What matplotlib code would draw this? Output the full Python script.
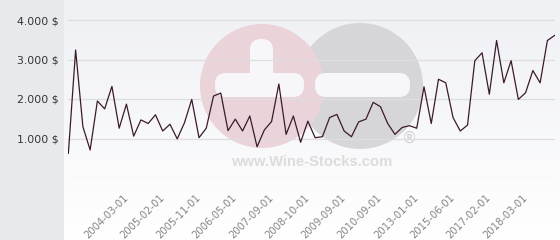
import numpy as np
import matplotlib
matplotlib.use("Agg")
import matplotlib.pyplot as plt
from matplotlib.patches import Circle, FancyBboxPatch

# ---- data ----
prices = [625, 3240, 1300, 710, 1950, 1750, 2320, 1260, 1870, 1060,
          1470, 1380, 1600, 1190, 1360, 990, 1400, 1990, 1020, 1260,
          2075, 2150, 1200, 1490, 1190, 1570, 790, 1215, 1430, 2380,
          1105, 1570, 905, 1440, 1020, 1045, 1530, 1610, 1190, 1045,
          1420, 1490, 1915, 1805, 1380, 1105, 1280, 1325, 1260, 2310,
          1380, 2500, 2410, 1530, 1190, 1340, 2970, 3170, 2120, 3480,
          2410, 2970, 1990, 2160, 2720, 2410, 3480, 3610]
tick_labels = ["2004-03-01", "2005-02-01", "2005-11-01", "2006-05-01",
               "2007-09-01", "2008-10-01", "2009-09-01", "2010-09-01",
               "2013-01-01", "2015-06-01", "2017-02-01", "2018-03-01"]
first_tick, tick_step = 8, 5
y_ticks = [0, 1000, 2000, 3000, 4000]
y_tick_labels = ["", "1.000 $", "2.000 $", "3.000 $", "4.000 $"]

W, H = 560, 240
fig = plt.figure(figsize=(W / 100, H / 100), dpi=100)
fig.patch.set_facecolor("#e7eaed")

# right panel gradient background
bg = fig.add_axes([64 / W, 0, 1 - 64 / W, 1], zorder=-10)
grad = np.linspace(0, 1, 256).reshape(-1, 1)
top = np.array([0xef, 0xf0, 0xf4]) / 255
bot = np.array([1.0, 1.0, 1.0])
img = top[None, None, :] * (1 - grad[:, :, None]) + bot[None, None, :] * grad[:, :, None]
bg.imshow(img, aspect="auto", extent=[0, 1, 0, 1], origin="upper")
bg.set_axis_off()

# watermark (figure pixel coordinates)
px = fig.dpi_scale_trans
def P(x, y):
    return (x / 100, (H - y) / 100)
wm = [
    Circle(P(360, 86), 0.63, transform=px, facecolor="#d6d6d8", edgecolor="none"),
    Circle(P(262, 86), 0.62, transform=px, facecolor="#ebd3da", edgecolor="none"),
]
for p in wm:
    p.set_zorder(-5)
    fig.patches.append(p)
bars = [
    (P(250, 97), 0.23, 0.58),   # plus vertical
    (P(215, 97), 0.89, 0.24),   # plus horizontal
    (P(315, 97), 0.95, 0.24),   # minus
]
for (xy, w, h) in bars:
    b = FancyBboxPatch(xy, w, h, boxstyle="round,pad=0,rounding_size=0.11",
                       transform=px, facecolor="#f7f7f9", edgecolor="none", zorder=-4)
    fig.patches.append(b)
fig.text(312 / W, 1 - 162 / H, "www.Wine-Stocks.com", ha="center", va="center",
         fontsize=10.6, fontweight="bold", family="Liberation Sans",
         color="#dcdcdc", zorder=-3)
fig.text(410 / W, 1 - 138 / H, "®", ha="center", va="center",
         fontsize=11, color="#d0d0d0", zorder=-3)

# main axes
ax = fig.add_axes([68 / W, (H - 178) / H, (555 - 68) / W, (178 - 10) / H])
ax.patch.set_alpha(0)
x = np.arange(len(prices))
ax.plot(x, prices, color="#3b1a2c", lw=0.9, zorder=3)
ax.set_xlim(-0.05, len(prices) - 1 + 0.05)
ax.set_ylim(0, 4000 * 168 / 158)
ax.set_yticks(y_ticks)
ax.set_yticklabels(y_tick_labels, fontsize=7.8, color="#333333")
ax.yaxis.grid(True, color="#dedee1", lw=0.9, zorder=0)
ax.set_axisbelow(True)
tick_pos = [first_tick + i * tick_step for i in range(len(tick_labels))]
ax.set_xticks(tick_pos)
ax.set_xticklabels(tick_labels, rotation=45, ha="right", va="center",
                   rotation_mode="anchor", fontsize=7.2, color="#858585")
ax.tick_params(axis="x", length=0, pad=13)
ax.tick_params(axis="y", length=0, pad=7)
for s in ax.spines.values():
    s.set_visible(False)

fig.savefig("out.png", dpi=100, facecolor=fig.get_facecolor())
